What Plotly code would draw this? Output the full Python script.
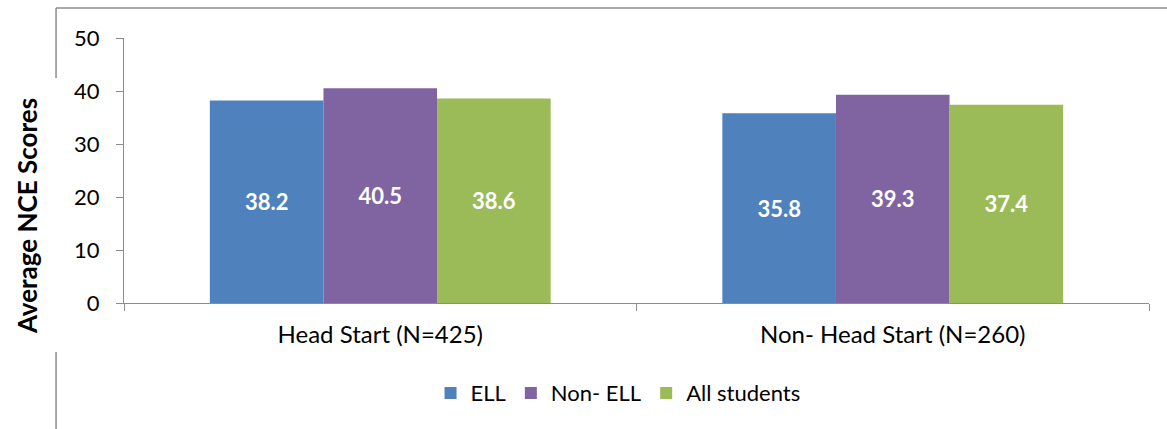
import plotly.graph_objects as go

categories = ["Head Start (N=425)", "Non- Head Start (N=260)"]
series_names = ["ELL", "Non- ELL", "All students"]
ell = [38.2, 35.8]
non_ell = [40.5, 39.3]
all_students = [38.6, 37.4]
colors = ["#4F81BD", "#8064A2", "#9BBB59"]
y_ticks = [0, 10, 20, 30, 40, 50]
y_title = "Average NCE Scores"

FONT = "Lato"

fig = go.Figure()
for name, vals, col in zip(series_names, [ell, non_ell, all_students], colors):
    fig.add_trace(go.Bar(
        name=name, x=categories, y=vals, marker=dict(color=col, line=dict(width=0)),
        text=[f"<b>{v:.1f}</b>" for v in vals], textposition="inside", insidetextanchor="middle",
        textfont=dict(color="white", size=22, family=FONT),
        textangle=0,
    ))

fig.update_layout(
    width=1167, height=429,
    margin=dict(l=124, r=18, t=38, b=126, autoexpand=False),
    paper_bgcolor="white", plot_bgcolor="white",
    barmode="group", bargap=0.335, bargroupgap=0,
    font=dict(family=FONT, size=22, color="black"),
    showlegend=True,
    legend=dict(orientation="h", x=0.482, xanchor="center", y=-0.34, yanchor="middle",
                font=dict(size=22, family=FONT), traceorder="normal"),
    uniformtext=dict(mode=False),
)
fig.update_yaxes(range=[0, 50], tickvals=y_ticks, showgrid=False, zeroline=False,
                 showline=True, linecolor="#8c8c8c", linewidth=1,
                 ticks="outside", ticklen=7, tickcolor="#8c8c8c",
                 tickfont=dict(size=22, family=FONT), automargin=False, ticklabelstandoff=12)
fig.update_xaxes(showgrid=False, showline=True, linecolor="#8c8c8c", linewidth=1,
                 ticks="outside", ticklen=7, tickcolor="#8c8c8c", tickson="boundaries",
                 tickfont=dict(size=24, family=FONT), ticklabelstandoff=10, automargin=False)

fig.add_annotation(text=f"<b>{y_title}</b>", xref="paper", yref="paper", x=-0.0946, y=0.328,
                   textangle=-90, showarrow=False, xanchor="center", yanchor="middle",
                   font=dict(size=26, family=FONT, color="black"))

# chart frame (cropped border)
frame = dict(type="line", xref="paper", yref="paper", line=dict(color="#8c8c8c", width=1.5))
fig.add_shape(**frame, x0=-0.0663, x1=1.05, y0=1.113, y1=1.113)
fig.add_shape(**frame, x0=-0.0663, x1=-0.0663, y0=1.113, y1=0.849)
fig.add_shape(**frame, x0=-0.0663, x1=-0.0663, y0=-0.185, y1=-0.48)

fig.write_html("out.html", config={"displayModeBar": False},
               post_script="document.body.style.margin='0';")
